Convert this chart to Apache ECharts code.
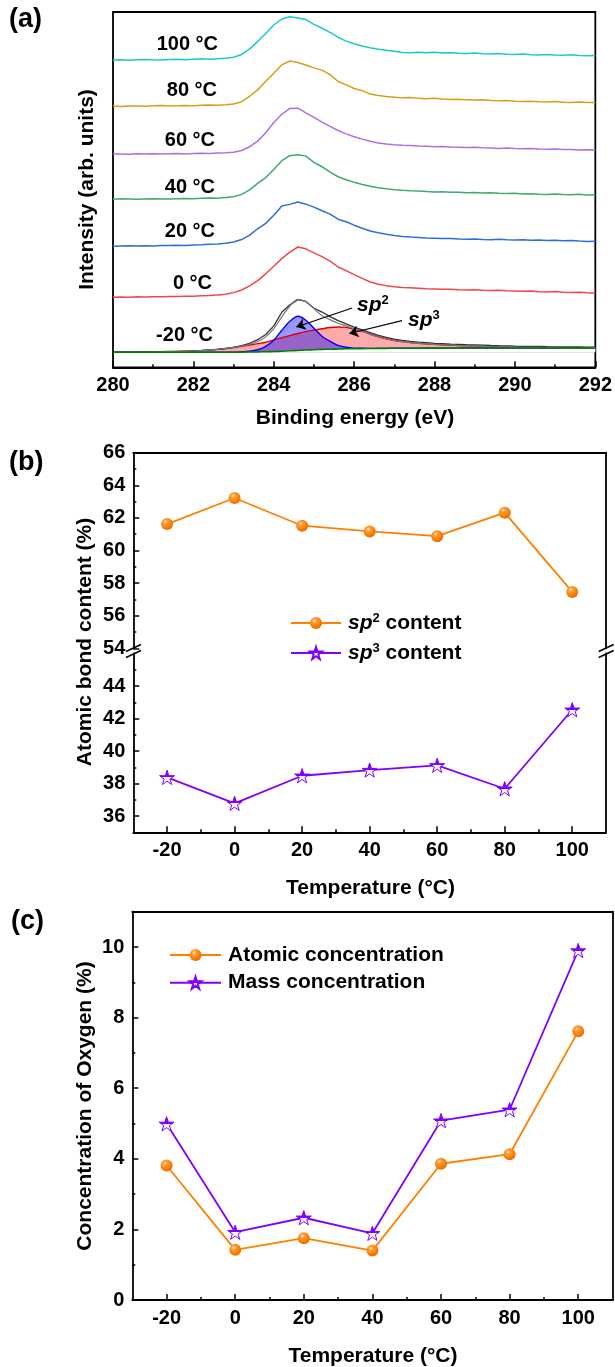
<!DOCTYPE html>
<html>
<head>
<meta charset="utf-8">
<script src="https://cdn.jsdelivr.net/npm/echarts@6/dist/echarts.min.js"></script>
<style>
  html, body { margin: 0; padding: 0; background: #fff; }
  #chart { width: 615px; height: 1367px; }
</style>
</head>
<body>
<div id="chart"></div>
<script>
// ---------------- C 1s spectra (panel a) ----------------
const bindingEnergy = [
  280.0, 280.2, 280.4, 280.6, 280.8, 281.0, 281.2, 281.4, 281.6, 281.8,
  282.0, 282.2, 282.4, 282.6, 282.8, 283.0, 283.2, 283.4, 283.6, 283.8,
  284.0, 284.2, 284.4, 284.6, 284.8, 285.0, 285.2, 285.4, 285.6, 285.8,
  286.0, 286.2, 286.4, 286.6, 286.8, 287.0, 287.2, 287.4, 287.6, 287.8,
  288.0, 288.2, 288.4, 288.6, 288.8, 289.0, 289.2, 289.4, 289.6, 289.8,
  290.0, 290.2, 290.4, 290.6, 290.8, 291.0, 291.2, 291.4, 291.6, 291.8,
  292.0
];
const binTicks = [280, 282, 284, 286, 288, 290, 292];

// trace labels, bottom to top, and their vertical stacking offsets (arb. units)
const traceLabels = ['-20 °C', '0 °C', '20 °C', '40 °C', '60 °C', '80 °C', '100 °C'];
const traceOffsets = [15, 70, 121, 168, 213, 261, 307];

// intensities above each trace's own baseline
const spectrumM20 = [
  0.0, 0.2, 0.1, 0.4, 0.3, 0.5, 0.6, 0.8, 0.9, 1.2,
  1.5, 1.8, 2.4, 2.9, 3.6, 5.0, 6.6, 9.0, 12.6, 17.8,
  26.4, 40.0, 47.4, 52.6, 50.8, 44.0, 40.2, 35.6, 31.6, 28.4,
  25.2, 22.4, 19.6, 17.0, 15.0, 13.2, 12.0, 10.9, 10.2, 9.6,
  9.0, 8.6, 8.2, 7.9, 7.6, 7.4, 7.1, 6.8, 6.6, 6.5,
  6.2, 6.0, 5.9, 5.8, 5.6, 5.5, 5.4, 5.4, 5.3, 5.2,
  5.2
];
const fitEnvelopeM20 = [
  0.0, 0.0, 0.1, 0.1, 0.2, 0.3, 0.4, 0.6, 0.8, 1.0,
  1.3, 1.7, 2.2, 2.9, 3.8, 4.9, 6.3, 8.0, 10.7, 15.4,
  23.6, 35.4, 46.2, 52.9, 50.4, 43.6, 36.6, 32.6, 29.0, 26.4,
  23.6, 21.3, 18.1, 15.5, 13.5, 11.8, 10.7, 9.7, 8.9, 8.35,
  7.9, 7.5, 7.1, 6.7, 6.45, 6.15, 5.9, 5.65, 5.45, 5.3,
  5.1, 5.0, 4.95, 4.85, 4.75, 4.7, 4.7, 4.65, 4.6, 4.5,
  4.45
];
const backgroundM20 = [
  0, 0, 0, 0, 0, 0, 0, 0, 0, 0,
  0, 0, 0, 0, 0, 0.1, 0.2, 0.3, 0.4, 0.6,
  0.8, 1.1, 1.5, 1.9, 2.3, 2.6, 2.9, 3.1, 3.3, 3.5,
  3.6, 3.7, 3.8, 3.9, 3.95, 4.0, 4.05, 4.1, 4.1, 4.15,
  4.15, 4.2, 4.2, 4.2, 4.25, 4.25, 4.25, 4.3, 4.3, 4.3,
  4.3, 4.3, 4.35, 4.35, 4.35, 4.35, 4.4, 4.4, 4.4, 4.4,
  4.4
];
// fitted components, heights above the background
const sp2PeakM20 = [
  0, 0, 0, 0, 0, 0, 0, 0, 0, 0,
  0, 0, 0, 0, 0, 0.1, 0.3, 0.7, 2.1, 5.4,
  11.2, 20.9, 29.5, 34.1, 29.7, 21.4, 13.1, 7.9, 3.7, 1.5,
  0.6, 0.3, 0.1, 0, 0, 0, 0, 0, 0, 0,
  0, 0, 0, 0, 0, 0, 0, 0, 0, 0,
  0, 0, 0, 0, 0, 0, 0, 0, 0, 0,
  0
];
const sp3PeakM20 = [
  0, 0, 0.1, 0.1, 0.2, 0.3, 0.4, 0.6, 0.8, 1.0,
  1.3, 1.7, 2.2, 2.9, 3.8, 4.7, 5.8, 7.0, 8.2, 9.4,
  11.6, 13.4, 15.2, 16.9, 18.4, 19.6, 20.6, 21.6, 22.0, 21.4,
  19.4, 17.3, 14.2, 11.6, 9.55, 7.8, 6.65, 5.6, 4.8, 4.2,
  3.75, 3.3, 2.9, 2.5, 2.2, 1.9, 1.65, 1.35, 1.15, 1.0,
  0.8, 0.7, 0.6, 0.5, 0.4, 0.35, 0.3, 0.25, 0.2, 0.1,
  0.05
];
const spectrum0 = [
  0.0, 0.3, 0.1, 0.5, 0.2, 0.6, 0.4, 0.8, 0.7, 1.1,
  1.0, 1.4, 1.7, 2.3, 3.0, 4.6, 7.2, 11.4, 16.6, 23.4,
  31.0, 38.6, 45.0, 50.2, 48.4, 44.4, 40.6, 36.0, 30.2, 26.6,
  22.6, 18.8, 15.2, 13.0, 11.6, 10.6, 9.8, 9.4, 9.0, 8.5,
  8.2, 7.9, 8.1, 7.6, 7.3, 7.5, 7.0, 6.8, 7.1, 6.5,
  6.3, 5.9, 6.2, 5.6, 5.3, 5.7, 5.0, 4.8, 5.1, 4.4,
  4.1
];
const spectrum20 = [
  0.0, 0.2, 0.4, 0.1, 0.5, 0.3, 0.7, 0.6, 1.0, 0.8,
  1.2, 1.5, 1.9, 2.2, 2.9, 4.2, 6.6, 11.0, 17.4, 22.8,
  31.0, 40.2, 41.8, 44.2, 42.0, 39.0, 35.4, 32.0, 27.0, 24.4,
  21.0, 18.0, 15.2, 13.4, 12.0, 10.8, 9.8, 9.2, 8.7, 8.2,
  8.0, 7.6, 7.8, 7.2, 7.0, 7.3, 6.8, 6.5, 6.9, 6.4,
  6.2, 6.5, 6.0, 6.1, 5.7, 5.9, 5.4, 5.6, 5.1, 4.8,
  5.0
];
const spectrum40 = [
  0.0, 0.3, 0.1, -0.2, 0.2, 0.5, 0.2, 0.1, 0.4, 0.7,
  0.5, 0.9, 1.1, 1.0, 1.6, 2.5, 4.8, 9.2, 15.8, 21.6,
  29.6, 38.4, 43.4, 44.3, 43.0, 36.8, 32.4, 27.0, 22.4, 19.4,
  16.8, 14.7, 12.8, 11.3, 10.3, 9.5, 8.8, 8.4, 8.1, 7.6,
  7.2, 7.5, 7.0, 6.8, 6.5, 6.7, 6.1, 6.3, 5.8, 5.6,
  5.9, 5.2, 5.4, 5.0, 4.7, 5.1, 4.6, 4.4, 4.8, 4.2,
  4.3
];
const spectrum60 = [
  0.0, 0.2, -0.1, 0.3, 0.1, 0.4, 0.0, 0.3, 0.6, 0.2,
  0.5, 0.8, 0.6, 1.0, 1.4, 1.9, 3.6, 7.4, 13.0, 21.4,
  31.6, 39.8, 45.6, 45.9, 41.2, 36.8, 32.0, 27.8, 23.6, 20.2,
  17.4, 15.0, 12.9, 11.2, 10.2, 9.4, 8.9, 8.6, 8.0, 7.8,
  7.4, 7.6, 7.0, 6.9, 6.6, 6.9, 6.3, 6.1, 5.7, 6.0,
  5.5, 5.3, 5.7, 5.1, 4.9, 5.2, 4.6, 4.5, 4.2, 4.4,
  4.1
];
const spectrum80 = [
  0.0, -0.3, 0.2, 0.1, -0.2, 0.3, 0.5, 0.1, 0.4, 0.6,
  0.3, 0.8, 1.0, 0.9, 1.3, 2.0, 4.4, 9.8, 16.2, 24.8,
  32.8, 41.2, 45.0, 43.6, 41.0, 38.2, 35.9, 31.4, 24.6, 21.2,
  17.6, 15.4, 12.0, 10.6, 9.6, 8.9, 8.2, 8.5, 7.7, 7.4,
  7.8, 7.0, 6.6, 6.9, 6.2, 6.0, 6.4, 5.5, 5.2, 5.6,
  4.9, 4.6, 4.8, 4.3, 4.1, 4.6, 3.9, 3.6, 4.0, 3.5,
  3.6
];
const spectrum100 = [
  0.0, 0.4, -0.2, 0.3, 0.6, 0.2, 0.1, 0.5, 0.8, 0.4,
  0.9, 1.2, 0.9, 1.4, 1.9, 2.8, 5.6, 11.2, 18.6, 26.5,
  35.0, 41.0, 43.2, 42.0, 40.4, 35.6, 31.8, 27.6, 22.8, 18.9,
  16.2, 14.1, 12.3, 10.8, 9.9, 8.8, 7.6, 7.2, 7.9, 7.3,
  7.7, 7.0, 7.4, 6.7, 6.5, 7.0, 6.2, 6.0, 6.5, 5.9,
  5.5, 6.0, 5.3, 5.1, 5.6, 5.0, 4.8, 5.3, 4.6, 4.4,
  4.6
];

// ---------------- bond content and oxygen (panels b, c) ----------------
const temperatures = [-20, 0, 20, 40, 60, 80, 100];
const sp2Content = [61.62, 63.22, 61.52, 61.17, 60.88, 62.32, 57.46];
const sp3Content = [38.38, 36.78, 38.48, 38.83, 39.12, 37.68, 42.54];
const atomicOxygen = [3.81, 1.42, 1.75, 1.40, 3.86, 4.13, 7.61];
const massOxygen = [4.99, 1.92, 2.33, 1.89, 5.08, 5.39, 9.90];

const tempTicks = [-20, 0, 20, 40, 60, 80, 100];
const tempMinorTicks = [-10, 10, 30, 50, 70, 90];
const sp2Ticks = [54, 56, 58, 60, 62, 64, 66];
const sp2MinorTicks = [55, 57, 59, 61, 63, 65];
const sp3Ticks = [36, 38, 40, 42, 44];
const sp3MinorTicks = [35, 37, 39, 41, 43, 45];
const oxygenTicks = [0, 2, 4, 6, 8, 10];
const oxygenMinorTicks = [1, 3, 5, 7, 9];

// ---------------- styling ----------------
const FONT = "'Liberation Sans', Arial, Helvetica, sans-serif";
const traceColors = ['#3a3a3a', '#ef4747', '#2a6fdc', '#3daa6e', '#b06ee6', '#d4a017', '#1fc7c7'];
const ORANGE = '#ff8000';
const VIOLET = '#7f00ff';
const STAR = 'path://M50,0 L61.23,34.55 L97.55,34.55 L68.17,55.9 L79.39,90.45 L50,69.1 L20.61,90.45 L31.83,55.9 L2.45,34.55 L38.77,34.55 Z';
const sphereFill = {
  type: 'radial', x: 0.38, y: 0.32, r: 0.75,
  colorStops: [
    { offset: 0, color: '#fff3e0' },
    { offset: 0.22, color: '#ffa040' },
    { offset: 0.6, color: '#ff8000' },
    { offset: 1, color: '#e06800' }
  ]
};
const halfStarFill = {
  type: 'linear', x: 0, y: 0, x2: 0, y2: 1,
  colorStops: [
    { offset: 0, color: VIOLET },
    { offset: 0.5, color: VIOLET },
    { offset: 0.5, color: '#ffffff' },
    { offset: 1, color: '#ffffff' }
  ]
};
const AX = { color: '#000', width: 1.8 };
const TK = { color: '#000', width: 1.5 };
const tickFont = { color: '#000', fontSize: 20, fontWeight: 'bold', fontFamily: FONT };

function lineAxis(gridIndex, position, min, max) {
  return {
    type: 'value', gridIndex, position, min, max,
    axisLine: { show: true, onZero: false, lineStyle: AX },
    axisTick: { show: false }, axisLabel: { show: false }, splitLine: { show: false }
  };
}
function mainAxis(gridIndex, position, min, max, ticks, margin) {
  return {
    type: 'value', gridIndex, position, min, max,
    axisLine: { show: true, onZero: false, lineStyle: AX },
    axisTick: { show: true, inside: true, length: 6, lineStyle: TK, customValues: ticks },
    axisLabel: Object.assign({ show: true, margin: margin, customValues: ticks }, tickFont),
    splitLine: { show: false }
  };
}
function minorAxis(gridIndex, position, min, max, ticks) {
  return {
    type: 'value', gridIndex, position, offset: 0, min, max,
    axisLine: { show: false, onZero: false },
    axisTick: { show: true, inside: true, length: 3, lineStyle: TK, customValues: ticks },
    axisLabel: { show: false }, splitLine: { show: false }
  };
}

const richSp = {
  i: { fontStyle: 'italic', fontWeight: 'bold', fontSize: 21, lineHeight: 22, fontFamily: FONT, color: '#000' },
  s: { fontWeight: 'bold', fontSize: 13, lineHeight: 13, verticalAlign: 'top', fontFamily: FONT, color: '#000' },
  n: { fontWeight: 'bold', fontSize: 21, lineHeight: 22, fontFamily: FONT, color: '#000' }
};

// ---------------- series ----------------
const pairs = (vals, offset) => bindingEnergy.map((e, i) => [e, vals[i] + offset]);
const onBackground = (vals, offset) => bindingEnergy.map((e, i) => [e, vals[i] + backgroundM20[i] + offset]);
const tempPairs = (vals) => temperatures.map((t, i) => [t, vals[i]]);

const upperTraces = [spectrum0, spectrum20, spectrum40, spectrum60, spectrum80, spectrum100];
const series = [];

upperTraces.forEach((vals, k) => {
  series.push({
    name: traceLabels[k + 1], type: 'line', xAxisIndex: 0, yAxisIndex: 0,
    data: pairs(vals, traceOffsets[k + 1]), showSymbol: false, symbol: 'none',
    lineStyle: { color: traceColors[k + 1], width: 1.5 }, silent: true
  });
});

const base = traceOffsets[0];
// sp3 component (sits on the background)
series.push({
  name: 'sp3 fit', type: 'line', xAxisIndex: 0, yAxisIndex: 0,
  data: onBackground(sp3PeakM20, base), symbol: 'none', smooth: 0.3,
  lineStyle: { color: '#e00000', width: 1.4 },
  areaStyle: { color: 'rgba(255, 0, 0, 0.48)', origin: base }, silent: true
});
// sp2 component (sits on the background)
series.push({
  name: 'sp2 fit', type: 'line', xAxisIndex: 0, yAxisIndex: 0,
  data: onBackground(sp2PeakM20, base), symbol: 'none', smooth: 0.3,
  lineStyle: { color: '#0000ff', width: 1.4 },
  areaStyle: { color: 'rgba(0, 0, 255, 0.58)', origin: base }, silent: true
});
// clear the sliver between the background line and the trace baseline
series.push({
  name: 'under background', type: 'line', xAxisIndex: 0, yAxisIndex: 0,
  data: pairs(backgroundM20, base), symbol: 'none', smooth: 0.3,
  lineStyle: { opacity: 0 },
  areaStyle: { color: '#ffffff', opacity: 1, origin: base }, silent: true
});
series.push({
  name: '-20 °C', type: 'line', xAxisIndex: 0, yAxisIndex: 0,
  data: pairs(spectrumM20, base), symbol: 'none',
  lineStyle: { color: '#333', width: 1.3 }, silent: true
});
series.push({
  name: 'envelope', type: 'line', xAxisIndex: 0, yAxisIndex: 0,
  data: pairs(fitEnvelopeM20, base), symbol: 'none', smooth: 0.3,
  lineStyle: { color: '#777', width: 1.2 }, silent: true
});
series.push({
  name: 'background', type: 'line', xAxisIndex: 0, yAxisIndex: 0,
  data: pairs(backgroundM20, base), symbol: 'none', smooth: 0.3,
  lineStyle: { color: '#008000', width: 1.6 }, silent: true,
  markLine: {
    silent: true, symbol: ['none', 'arrow'], symbolSize: 9,
    lineStyle: { color: '#000', width: 1.2, type: 'solid' },
    label: { show: false },
    data: [
      [{ coord: [285.95, 59.3] }, { coord: [284.56, 40.3] }],
      [{ coord: [287.19, 46.6] }, { coord: [285.88, 33.8] }]
    ]
  }
});

// panel b
series.push({
  name: 'sp2 content', type: 'line', xAxisIndex: 1, yAxisIndex: 1,
  data: tempPairs(sp2Content), symbol: 'circle', symbolSize: 12,
  lineStyle: { color: ORANGE, width: 1.8 },
  itemStyle: { color: sphereFill, borderWidth: 0 }, z: 3
});
series.push({
  name: 'sp3 content', type: 'line', xAxisIndex: 2, yAxisIndex: 4,
  data: tempPairs(sp3Content), symbol: STAR, symbolSize: 15, symbolKeepAspect: true,
  lineStyle: { color: VIOLET, width: 1.8 },
  itemStyle: { color: halfStarFill, borderColor: VIOLET, borderWidth: 1 }, z: 3
});
// panel c
series.push({
  name: 'Atomic concentration', type: 'line', xAxisIndex: 4, yAxisIndex: 7,
  data: tempPairs(atomicOxygen), symbol: 'circle', symbolSize: 12,
  lineStyle: { color: ORANGE, width: 1.8 },
  itemStyle: { color: sphereFill, borderWidth: 0 }, z: 3
});
series.push({
  name: 'Mass concentration', type: 'line', xAxisIndex: 4, yAxisIndex: 7,
  data: tempPairs(massOxygen), symbol: STAR, symbolSize: 15, symbolKeepAspect: true,
  lineStyle: { color: VIOLET, width: 1.8 },
  itemStyle: { color: halfStarFill, borderColor: VIOLET, borderWidth: 1 }, z: 3
});

// ---------------- text ----------------
function txt(text, x, y, size, opts) {
  const o = opts || {};
  return {
    type: 'text', x, y, rotation: o.rotation || 0, z: 100, silent: true,
    style: {
      text, fill: '#000', fontSize: size, fontWeight: 'bold', fontFamily: FONT,
      fontStyle: o.italic ? 'italic' : 'normal',
      align: o.align || 'center', textAlign: o.align || 'center',
      verticalAlign: 'middle', textVerticalAlign: 'middle',
      rich: o.rich
    }
  };
}
const traceLabelPos = [[213, 335], [212, 283.3], [215, 231.7], [215, 187.3], [215, 140], [217, 90], [218, 44.3]];
const graphics = [
  txt('(a)', 9, 20, 27, { align: 'left' }),
  txt('(b)', 9, 463, 27, { align: 'left' }),
  txt('(c)', 11, 922, 27, { align: 'left' }),
  txt('Intensity (arb. units)', 87, 189.5, 21, { rotation: Math.PI / 2 }),
  txt('Atomic bond content (%)', 85, 642, 21, { rotation: Math.PI / 2 }),
  txt('Concentration of Oxygen (%)', 85, 1106, 21, { rotation: Math.PI / 2 }),
  txt('Binding energy (eV)', 355, 418.3, 21),
  txt('Temperature (°C)', 370.5, 888, 21),
  txt('Temperature (°C)', 373, 1356.5, 21),
  txt('{i|sp}{s|2}', 357, 305, 20, { align: 'left', rich: richSp }),
  txt('{i|sp}{s|3}', 408, 320, 20, { align: 'left', rich: richSp })
];
traceLabels.forEach((lab, k) => {
  graphics.push(txt(lab, traceLabelPos[k][0], traceLabelPos[k][1], 20, { align: 'right' }));
});
// axis-break marks on panel b
[[126, 141], [598.7, 613.7]].forEach(([x1, x2]) => {
  graphics.push({ type: 'line', z: 100, silent: true, shape: { x1, y1: 651.5, x2, y2: 644.5 }, style: { stroke: '#000', lineWidth: 1.5 } });
  graphics.push({ type: 'line', z: 100, silent: true, shape: { x1, y1: 657.5, x2, y2: 650.5 }, style: { stroke: '#000', lineWidth: 1.5 } });
});

// ---------------- chart ----------------
const legendText = {
  fontSize: 21, fontWeight: 'bold', fontFamily: FONT, color: '#000', lineHeight: 22,
  padding: [0, 0, 0, 2], rich: richSp
};
const option = {
  animation: false,
  backgroundColor: '#fff',
  textStyle: { fontFamily: FONT },
  grid: [
    { left: 113, top: 12, width: 484, height: 355.3, show: true, borderColor: '#000', borderWidth: 1.8, backgroundColor: 'transparent' },
    { left: 133.3, top: 452.7, width: 472.7, height: 195.6 },
    { left: 133.3, top: 653.5, width: 472.7, height: 178.8 },
    { left: 132.3, top: 911.7, width: 480.2, height: 388.3 }
  ],
  xAxis: [
    {
      type: 'value', gridIndex: 0, position: 'bottom', min: 280, max: 292, interval: 2,
      axisLine: { show: true, onZero: false, lineStyle: AX },
      axisTick: { show: true, inside: true, length: 6, lineStyle: TK },
      minorTick: { show: true, splitNumber: 2, length: 3, lineStyle: TK },
      axisLabel: Object.assign({ margin: 8, customValues: binTicks }, tickFont),
      splitLine: { show: false }, minorSplitLine: { show: false }
    },
    lineAxis(1, 'top', -30, 110),
    mainAxis(2, 'bottom', -30, 110, tempTicks, 8),
    minorAxis(2, 'bottom', -30, 110, tempMinorTicks),
    mainAxis(3, 'bottom', -30, 110, tempTicks, 8),
    minorAxis(3, 'bottom', -30, 110, tempMinorTicks),
    lineAxis(3, 'top', -30, 110)
  ],
  yAxis: [
    { type: 'value', gridIndex: 0, min: 0, max: 355, show: false, splitLine: { show: false } },
    mainAxis(1, 'left', 54, 66, sp2Ticks, 8),
    minorAxis(1, 'left', 54, 66, sp2MinorTicks),
    lineAxis(1, 'right', 54, 66),
    mainAxis(2, 'left', 35, 46, sp3Ticks, 8),
    minorAxis(2, 'left', 35, 46, sp3MinorTicks),
    lineAxis(2, 'right', 35, 46),
    mainAxis(3, 'left', 0, 11, oxygenTicks, 8),
    minorAxis(3, 'left', 0, 11, oxygenMinorTicks),
    lineAxis(3, 'right', 0, 11)
  ],
  legend: [
    {
      data: ['sp2 content', 'sp3 content'], orient: 'vertical', left: 290, top: 612,
      padding: 0, itemGap: 8, itemWidth: 50, itemHeight: 15, selectedMode: false,
      textStyle: legendText,
      formatter: (name) => name.replace(/^sp(\d) content$/, '{i|sp}{s|$1}{n| content}')
    },
    {
      data: ['Atomic concentration', 'Mass concentration'], orient: 'vertical', left: 169, top: 944,
      padding: 0, itemGap: 5.7, itemWidth: 51, itemHeight: 15, selectedMode: false,
      textStyle: legendText
    }
  ],
  series,
  graphic: graphics
};

const chart = echarts.init(document.getElementById('chart'), null, { renderer: 'canvas', width: 615, height: 1367 });
chart.setOption(option);
</script>
</body>
</html>
